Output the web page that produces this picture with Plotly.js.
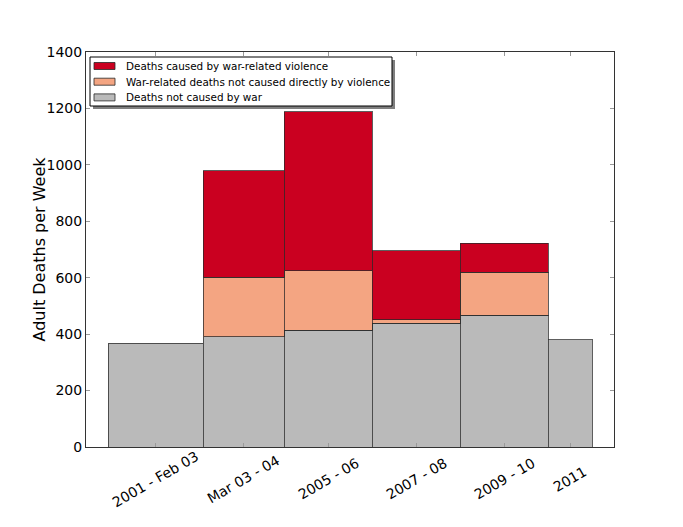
<!DOCTYPE html>
<html>
<head>
<meta charset="utf-8">
<script src="https://cdn.plot.ly/plotly-3.0.1.min.js"></script>
<style>
  body { margin: 0; background: #fff; }
  #chart { width: 683px; height: 527px; }
</style>
</head>
<body>
<div id="chart"></div>
<script>
// periods, as fractional years
var periodLabels = ['2001 - Feb 03', 'Mar 03 - 04', '2005 - 06', '2007 - 08', '2009 - 10', '2011'];
var periodStart = [2001, 2003.1667, 2005, 2007, 2009, 2011];
var periodEnd = [2003.1667, 2005, 2007, 2009, 2011, 2012];

// adult deaths per week, stacked
var notWar = [367, 391, 414, 439, 467, 381];
var warIndirect = [null, 211, 211, 12, 153, null];
var warViolent = [null, 377, 563, 245, 102, null];

var seriesNames = ['Deaths caused by war-related violence',
	'War-related deaths not caused directly by violence',
	'Deaths not caused by war'];
var seriesColors = ['#ca0020', '#f4a582', '#bababa'];

var centers = periodStart.map(function (s, i) { return (s + periodEnd[i]) / 2; });
var widths = periodStart.map(function (s, i) { return periodEnd[i] - s; });

var edge = { color: 'rgba(40,40,40,0.75)', width: 1 };

function bars(name, y, color) {
	return {
		type: 'bar',
		name: name,
		x: centers,
		y: y,
		width: widths,
		marker: { color: color, line: edge },
		hoverinfo: 'y+name'
	};
}

var traces = [
	bars(seriesNames[2], notWar, seriesColors[2]),
	bars(seriesNames[1], warIndirect, seriesColors[1]),
	bars(seriesNames[0], warViolent, seriesColors[0])
];

// plot box in pixels, used to place the hand-made legend
var W = 683, H = 527;
var M = { l: 86, r: 69, t: 52, b: 80 };
var pw = W - M.l - M.r, ph = H - M.t - M.b;
function px(x) { return (x - M.l) / pw; }
function py(y) { return (H - M.b - y) / ph; }

var annotations = periodLabels.map(function (t, i) {
	return {
		text: t,
		x: centers[i],
		xref: 'x',
		y: 0,
		yref: 'paper',
		yshift: -32,
		xanchor: 'center',
		yanchor: 'middle',
		textangle: -30,
		showarrow: false,
		font: { size: 14, color: '#000' }
	};
});

// y axis title
annotations.push({
	text: 'Adult Deaths per Week',
	xref: 'paper', yref: 'paper',
	x: px(39), y: 0.5,
	xanchor: 'center', yanchor: 'middle',
	textangle: -90,
	showarrow: false,
	font: { size: 16, color: '#000' }
});

var shapes = [
	// legend shadow and frame
	{ type: 'rect', xref: 'paper', yref: 'paper', layer: 'above',
		x0: px(93), x1: px(395), y0: py(60), y1: py(109),
		fillcolor: '#7f7f7f', line: { width: 0 } },
	{ type: 'rect', xref: 'paper', yref: 'paper', layer: 'above',
		x0: px(90), x1: px(392), y0: py(57), y1: py(106),
		fillcolor: '#fff', line: { color: '#000', width: 1 } }
];

seriesNames.forEach(function (name, i) {
	var cy = 66 + i * 15.7;
	shapes.push({ type: 'rect', xref: 'paper', yref: 'paper', layer: 'above',
		x0: px(94), x1: px(115), y0: py(cy - 3.5), y1: py(cy + 3.5),
		fillcolor: seriesColors[i], line: { color: 'rgba(40,40,40,0.8)', width: 1 } });
	annotations.push({ text: name, xref: 'paper', yref: 'paper',
		x: px(124), y: py(cy), xanchor: 'left', yanchor: 'middle',
		showarrow: false, font: { size: 10.4, color: '#000' } });
});

var layout = {
	width: W,
	height: H,
	margin: M,
	paper_bgcolor: '#fff',
	plot_bgcolor: '#fff',
	font: { family: 'DejaVu Sans, sans-serif', color: '#000' },
	barmode: 'stack',
	bargap: 0,
	showlegend: false,
	xaxis: {
		range: [2000.5, 2012.5],
		tickvals: centers,
		showticklabels: false,
		ticks: 'inside',
		ticklen: 4,
		tickcolor: '#999',
		showgrid: false,
		zeroline: false,
		showline: true,
		linecolor: '#333',
		linewidth: 1,
		mirror: 'allticks'
	},
	yaxis: {
		range: [0, 1400],
		tickvals: [0, 200, 400, 600, 800, 1000, 1200, 1400],
		ticks: 'inside',
		ticklen: 4,
		tickcolor: '#999',
		tickfont: { size: 14 },
		showgrid: false,
		zeroline: false,
		showline: true,
		linecolor: '#333',
		linewidth: 1,
		mirror: 'allticks'
	},
	shapes: shapes,
	annotations: annotations
};

Plotly.newPlot('chart', traces, layout, { displayModeBar: false, staticPlot: true });
</script>
</body>
</html>
